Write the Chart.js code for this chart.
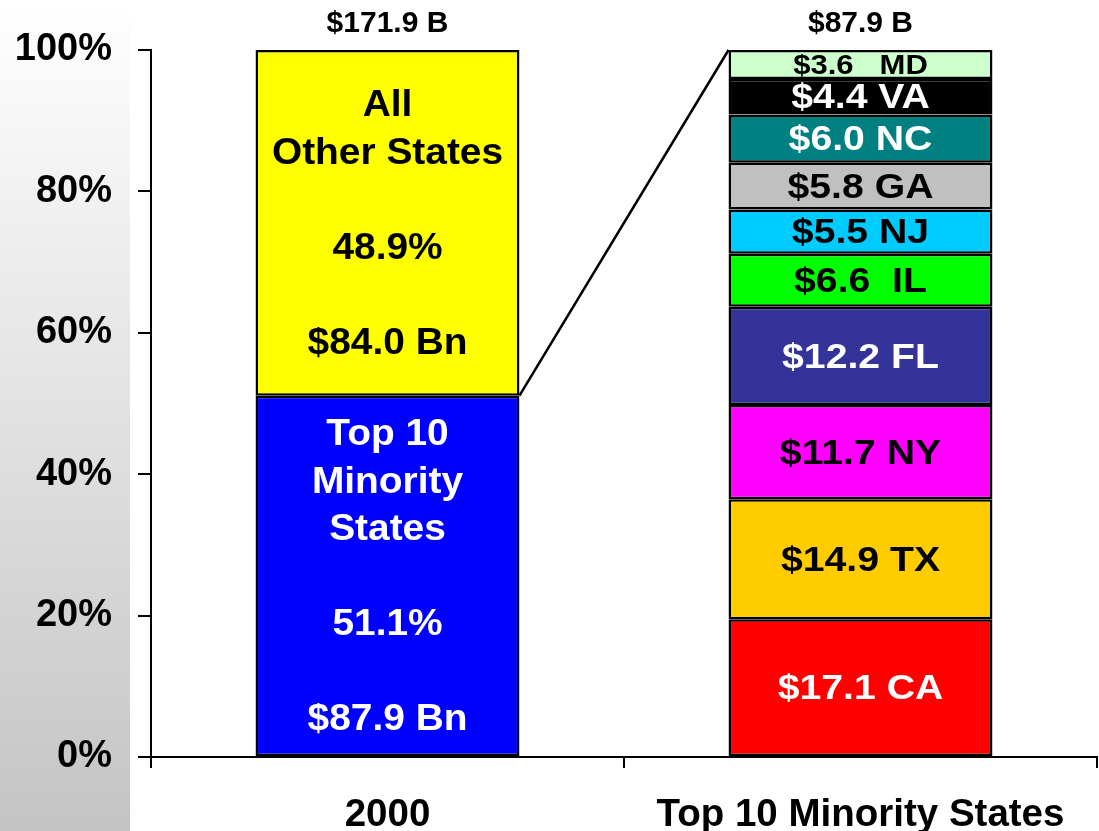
<!DOCTYPE html>
<html><head><meta charset="utf-8">
<script src="https://cdn.jsdelivr.net/npm/chart.js@4"></script>
<style>html,body{margin:0;padding:0;background:#fff}canvas{display:block}</style>
</head><body>
<canvas id="c" width="1099" height="831"></canvas>
<script>
// ---- data ----
const categories = ['2000', 'Top 10 Minority States'];
const totalLabels = ['$171.9 B', '$87.9 B'];
const groupNameLines = [['Top 10', 'Minority', 'States'], ['All', 'Other States']];
const groupShares = [51.1, 48.9];
const groupDollars = ['$87.9 Bn', '$84.0 Bn'];
const states = ['CA', 'TX', 'NY', 'FL', 'IL', 'NJ', 'GA', 'NC', 'VA', 'MD'];
const stateValues = [17.1, 14.9, 11.7, 12.2, 6.6, 5.5, 5.8, 6.0, 4.4, 3.6];
const stateLabels = ['$17.1 CA', '$14.9 TX', '$11.7 NY', '$12.2 FL', '$6.6  IL', '$5.5 NJ', '$5.8 GA', '$6.0 NC', '$4.4 VA', '$3.6   MD'];
const yTickStep = 20;

// ---- styles ----
const FONT = '"Liberation Sans", Arial, Helvetica, sans-serif';
const groupColors = ['#0000FF', '#FFFF00'];
const groupTextColors = ['#FFFFFF', '#000000'];
const stateColors = ['#FF0000', '#FFCC00', '#FF00FF', '#333399', '#00FF00', '#00CCFF', '#C0C0C0', '#008080', '#000000', '#CCFFCC'];
const stateTextColors = ['#FFFFFF', '#000000', '#000000', '#FFFFFF', '#000000', '#000000', '#000000', '#FFFFFF', '#FFFFFF', '#000000'];

const stateSum = stateValues.reduce((a, b) => a + b, 0);

const datasets = [];
groupShares.forEach((s, i) => {
  datasets.push({
    label: groupNameLines[i].join(' '),
    data: [s, null],
    backgroundColor: groupColors[i],
    borderColor: '#000', borderWidth: 2.5, borderSkipped: false,
    labelLines: [...groupNameLines[i], '', s.toFixed(1) + '%', '', groupDollars[i]],
    labelColor: groupTextColors[i], labelSize: 36, labelScale: 1.08, lineH: 47.5
  });
});
states.forEach((st, i) => {
  datasets.push({
    label: st,
    data: [null, stateValues[i] / stateSum * 100],
    backgroundColor: stateColors[i],
    borderColor: '#000', borderWidth: 2.5, borderSkipped: false,
    labelLines: [stateLabels[i]],
    labelColor: stateTextColors[i],
    labelSize: st === 'MD' ? 27 : 35, labelScale: st === 'MD' ? 1.15 : 1.12, lineH: 40
  });
});

const bgPlugin = {
  id: 'bg',
  beforeDraw(chart) {
    const ctx = chart.ctx;
    const g = ctx.createLinearGradient(0, 0, 0, chart.height);
    g.addColorStop(0, '#FFFFFF');
    g.addColorStop(1, '#C4C4C4');
    ctx.save();
    ctx.fillStyle = '#FFFFFF';
    ctx.fillRect(0, 0, chart.width, chart.height);
    ctx.fillStyle = g;
    ctx.fillRect(0, 0, 130, chart.height);
    ctx.restore();
  }
};

function stretchText(ctx, txt, x, y, sx) {
  ctx.save();
  ctx.translate(x, y);
  ctx.scale(sx, 1);
  ctx.fillText(txt, 0, 0);
  ctx.restore();
}

const labelPlugin = {
  id: 'labels',
  afterDatasetsDraw(chart) {
    const ctx = chart.ctx;
    ctx.save();
    ctx.textAlign = 'center';
    ctx.textBaseline = 'middle';
    // connector line from top of Top-10 segment to top of right bar
    const b0 = chart.getDatasetMeta(0).data[0];
    const lastMeta = chart.getDatasetMeta(chart.data.datasets.length - 1).data[1];
    ctx.strokeStyle = '#000';
    ctx.lineWidth = 2.5;
    ctx.beginPath();
    ctx.moveTo(b0.x + b0.width / 2, b0.y);
    ctx.lineTo(lastMeta.x - lastMeta.width / 2, lastMeta.y);
    ctx.stroke();

    chart.data.datasets.forEach((ds, i) => {
      const meta = chart.getDatasetMeta(i);
      meta.data.forEach((bar, j) => {
        if (ds.data[j] == null) return;
        const lines = ds.labelLines;
        const cy = (bar.y + bar.base) / 2;
        ctx.fillStyle = ds.labelColor;
        ctx.font = 'bold ' + ds.labelSize + 'px ' + FONT;
        const n = lines.length;
        lines.forEach((ln, k) => {
          if (!ln) return;
          const y = cy + (k - (n - 1) / 2) * ds.lineH + 2;
          stretchText(ctx, ln, bar.x, y, ds.labelScale);
        });
      });
    });
    // totals above bars
    ctx.fillStyle = '#000';
    ctx.font = 'bold 30px ' + FONT;
    const yTop = chart.scales.y.getPixelForValue(100);
    categories.forEach((c, j) => {
      const x = chart.scales.x.getPixelForValue(j);
      ctx.fillText(totalLabels[j], x, yTop - 26);
    });
    ctx.restore();
  }
};

new Chart(document.getElementById('c'), {
  type: 'bar',
  data: { labels: categories, datasets },
  options: {
    responsive: false,
    animation: false,
    devicePixelRatio: 1,
    layout: { padding: { top: 50, right: 2, left: 0, bottom: 0 } },
    plugins: { legend: { display: false }, tooltip: { enabled: false } },
    datasets: { bar: { barPercentage: 0.558, categoryPercentage: 1.0 } },
    scales: {
      x: {
        stacked: true,
        grid: { display: true, drawOnChartArea: false, drawTicks: true, tickLength: 11, color: '#000', lineWidth: 2, offset: true },
        border: { display: true, color: '#000', width: 2 },
        ticks: { color: '#000', font: { family: FONT, size: 38.5, weight: 'bold' }, padding: 24, maxRotation: 0, autoSkip: false },
        afterFit(s) { s.height = 74; }
      },
      y: {
        stacked: true,
        min: 0, max: 100,
        grid: { display: true, drawOnChartArea: false, drawTicks: true, tickLength: 13, color: '#000', lineWidth: 2 },
        border: { display: true, color: '#000', width: 2 },
        ticks: { stepSize: yTickStep, color: '#000', font: { family: FONT, size: 38, weight: 'bold' }, padding: 26, callback: v => v + '%' },
        afterFit(s) { s.width = 151; }
      }
    }
  },
  plugins: [bgPlugin, labelPlugin]
});
</script>
</body></html>
